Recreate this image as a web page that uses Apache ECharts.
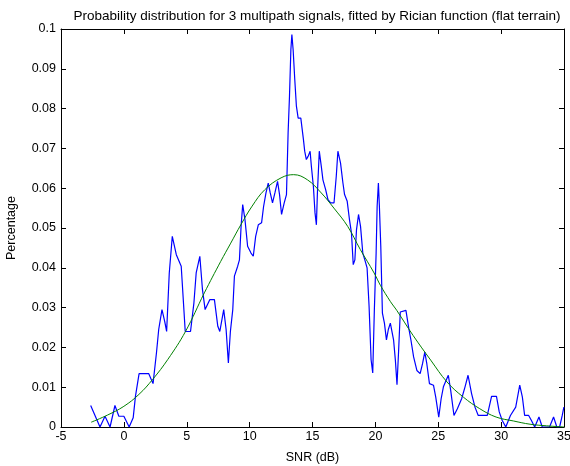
<!DOCTYPE html>
<html>
<head>
<meta charset="utf-8">
<script src="https://cdn.jsdelivr.net/npm/echarts@6/dist/echarts.min.js"></script>
<style>
html,body{margin:0;padding:0;background:#fff;}
#chart{width:570px;height:466px;}
</style>
</head>
<body>
<div id="chart"></div>
<script>
// Measured histogram (blue)
var measuredSNR = [
-2.64,-1.9,-1.5,-1.1,-0.71,-0.4,0,0.42,0.74,0.92,1.21,1.98,2.32,2.59,2.77,3.03,3.25,3.4,3.61,3.85,
4.17,4.56,4.88,5.3,5.57,5.75,6.04,6.25,6.46,6.83,7.2,7.47,7.63,7.94,8.13,8.31,8.47,8.66,8.79,9.05,
9.19,9.32,9.45,9.63,9.84,10.11,10.29,10.48,10.69,10.95,11.11,11.3,11.48,11.64,11.82,12.01,12.22,12.38,12.54,12.75,
12.93,13.06,13.17,13.28,13.36,13.46,13.59,13.72,13.86,14.07,14.28,14.38,14.51,14.65,14.81,14.91,15.07,15.2,15.31,15.39,
15.54,15.7,15.83,16.05,16.23,16.44,16.71,16.89,17.02,17.23,17.42,17.55,17.76,17.94,18.1,18.24,18.37,18.5,18.66,18.82,
19.0,19.16,19.34,19.5,19.66,19.79,19.92,20.06,20.14,20.24,20.32,20.43,20.56,20.72,20.88,21.03,21.19,21.45,21.59,21.72,
21.85,21.98,22.11,22.43,22.64,22.83,23.04,23.3,23.56,23.75,23.93,24.09,24.3,24.62,24.8,25.04,25.23,25.41,25.62,25.8,
25.99,26.25,26.52,26.86,27.13,27.37,27.65,27.92,28.18,28.9,29.24,29.63,29.85,30.08,30.37,30.74,31.16,31.48,31.69,31.87,
32.19,32.4,32.67,33.01,33.27,33.85,34.17,34.43,34.65,34.86,34.99
];
var measuredPct = [
0.0054,0,0.0027,0,0.0054,0.0027,0.0027,0,0.0023,0.0077,0.0134,0.0134,0.0109,0.0186,0.0245,0.0295,0.0265,0.024,0.0387,0.0479,
0.0433,0.0404,0.024,0.024,0.0312,0.0387,0.0429,0.0345,0.0295,0.032,0.032,0.0253,0.024,0.0295,0.0245,0.0161,0.024,0.0295,0.0379,0.0404,
0.042,0.0504,0.0559,0.0521,0.0454,0.0437,0.0429,0.0479,0.0508,0.0513,0.0554,0.0588,0.0613,0.0588,0.0563,0.0588,0.0617,0.0584,0.0534,0.0563,
0.0584,0.0739,0.0831,0.0948,0.0986,0.0948,0.0873,0.0806,0.0776,0.0776,0.0722,0.0693,0.0672,0.068,0.0693,0.0655,0.0605,0.0538,0.0508,0.0588,
0.0693,0.0655,0.0621,0.0596,0.0571,0.0563,0.0563,0.063,0.0693,0.0663,0.0613,0.0584,0.0567,0.0521,0.0487,0.0408,0.042,0.0496,0.0534,0.0504,
0.0437,0.042,0.04,0.0303,0.0169,0.0136,0.0295,0.0437,0.0554,0.0613,0.0554,0.0454,0.0286,0.0261,0.0219,0.0245,0.0261,0.0218,0.0168,0.0106,
0.0193,0.0289,0.0293,0.0293,0.0251,0.0218,0.0176,0.0142,0.0134,0.0159,0.0188,0.0159,0.0109,0.0105,0.0075,0.0025,0.0071,0.0101,0.0117,0.013,
0.0092,0.0029,0.0046,0.0071,0.0101,0.013,0.0084,0.005,0.0029,0.0029,0.0077,0.0077,0.0038,0.0017,0,0.0029,0.005,0.0105,0.0075,0.0029,
0.0029,0.0017,0,0.0025,0,0,0.0025,0,0,0.0029,0.005
];
// Rician fit (green)
var fitSNR = [-2.6,-1.3,0,1.2,2.3,3.5,4.9,6.4,7.7,8.5,9.3,10.2,11.2,12.5,13.5,14.6,15.7,16.7,17.8,18.8,19.9,20.4,21.2,21.7,23.0,24.4,25.7,27.0,28.3,29.6,31.0,32.3,33.6,35.0];
var fitPct = [0.0012,0.0030,0.0052,0.0082,0.0120,0.0170,0.0240,0.0337,0.0416,0.0462,0.0508,0.0555,0.0596,0.0626,0.0634,0.0621,0.0588,0.0550,0.0504,0.0446,0.0387,0.0356,0.0315,0.0293,0.0230,0.0168,0.0113,0.0075,0.0046,0.0025,0.0015,0.0007,0.0003,0.0];

var xTicks = {min:-5, max:35, interval:5};
var yTicks = {min:0, max:0.1, interval:0.01};

function pairs(xs, ys){ var out=[]; for(var i=0;i<xs.length;i++){ out.push([xs[i], ys[i]]); } return out; }

var FONT = 'Liberation Sans, Arial, Helvetica, sans-serif';
var chart = echarts.init(document.getElementById('chart'), null, {renderer:'canvas'});
var axisLineStyle = {show:true, onZero:false, lineStyle:{color:'#000', width:1}};
var tickStyle = {show:true, inside:true, length:5, lineStyle:{color:'#000'}};
chart.setOption({
  animation:false,
  backgroundColor:'#fff',
  title:{
    text:'Probability distribution for 3 multipath signals, fitted by Rician function (flat terrain)',
    left:312, top:4, textAlign:'center',
    textStyle:{fontSize:13.5, fontWeight:'normal', color:'#000', fontFamily:FONT}
  },
  grid:{left:61, right:6, top:29, bottom:39, containLabel:false, outerBoundsMode:'none'},
  xAxis:[{
    type:'value', min:xTicks.min, max:xTicks.max, interval:xTicks.interval,
    position:'bottom',
    axisLine:axisLineStyle,
    axisTick:tickStyle,
    splitLine:{show:false},
    axisLabel:{color:'#000', fontSize:12.5, fontFamily:FONT, margin:3},
    name:'SNR (dB)', nameLocation:'middle', nameGap:24,
    nameTextStyle:{color:'#000', fontSize:12.5, fontFamily:FONT}
  },{
    type:'value', min:xTicks.min, max:xTicks.max, interval:xTicks.interval,
    position:'top',
    axisLine:axisLineStyle,
    axisTick:tickStyle,
    splitLine:{show:false},
    axisLabel:{show:false}
  }],
  yAxis:[{
    type:'value', min:yTicks.min, max:yTicks.max, interval:yTicks.interval,
    position:'left',
    axisLine:axisLineStyle,
    axisTick:tickStyle,
    splitLine:{show:false},
    axisLabel:{color:'#000', fontSize:12.5, fontFamily:FONT, margin:5,
      formatter:function(v){ return String(+v.toFixed(2)); }},
    name:'Percentage', nameLocation:'middle', nameGap:43, nameRotate:90,
    nameTextStyle:{color:'#000', fontSize:12.5, fontFamily:FONT}
  },{
    type:'value', min:yTicks.min, max:yTicks.max, interval:yTicks.interval,
    position:'right',
    axisLine:axisLineStyle,
    axisTick:tickStyle,
    splitLine:{show:false},
    axisLabel:{show:false}
  }],
  series:[{
    type:'line', xAxisIndex:0, yAxisIndex:0,
    data:pairs(measuredSNR, measuredPct),
    showSymbol:false, symbol:'none',
    lineStyle:{color:'#0000ff', width:1.2},
    clip:true
  },{
    type:'line', xAxisIndex:0, yAxisIndex:0,
    data:pairs(fitSNR, fitPct),
    showSymbol:false, symbol:'none', smooth:0.4,
    lineStyle:{color:'#008000', width:1},
    clip:true
  }]
});
</script>
</body>
</html>
